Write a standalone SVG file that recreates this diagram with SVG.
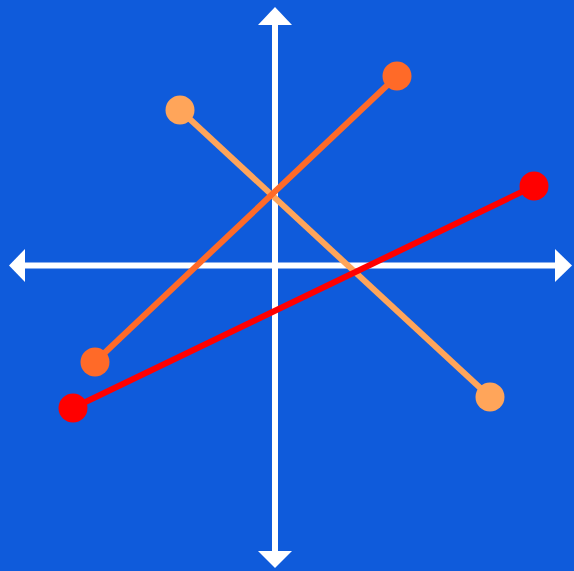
<svg xmlns="http://www.w3.org/2000/svg" width="574" height="571" viewBox="0 0 574 571">
<style>
.ax{stroke:#fff;stroke-width:6;fill:none}
.hd{fill:#fff}
</style>
<rect width="574" height="571" fill="#0F5BDB"/>
<g id="axes">
<line class="ax" x1="275" y1="22" x2="275" y2="554"/>
<line class="ax" x1="22" y1="265.5" x2="558" y2="265.5"/>
<polygon class="hd" points="275,7 292,25 258,25"/>
<polygon class="hd" points="275,568 292,551 258,551"/>
<polygon class="hd" points="9,265.5 25,249 25,282"/>
<polygon class="hd" points="572,265.5 555,249 555,282"/>
</g>
<g id="connectors">
<line x1="180" y1="110" x2="490" y2="397" stroke="#FFA55A" stroke-width="6"/>
<line x1="95" y1="362" x2="397" y2="76" stroke="#FF6A28" stroke-width="6"/>
<line x1="73" y1="408" x2="534" y2="186" stroke="#FF0000" stroke-width="6"/>
</g>
<g id="p1"><circle cx="180" cy="110" r="14.5" fill="#FFA55A"/></g>
<g id="p2"><circle cx="490" cy="397" r="14.5" fill="#FFA55A"/></g>
<g id="p3"><circle cx="95" cy="362" r="14.5" fill="#FF6A28"/></g>
<g id="p4"><circle cx="397" cy="76" r="14.5" fill="#FF6A28"/></g>
<g id="p5"><circle cx="73" cy="408" r="14.5" fill="#FF0000"/></g>
<g id="p6"><circle cx="534" cy="186" r="14.5" fill="#FF0000"/></g>
</svg>
